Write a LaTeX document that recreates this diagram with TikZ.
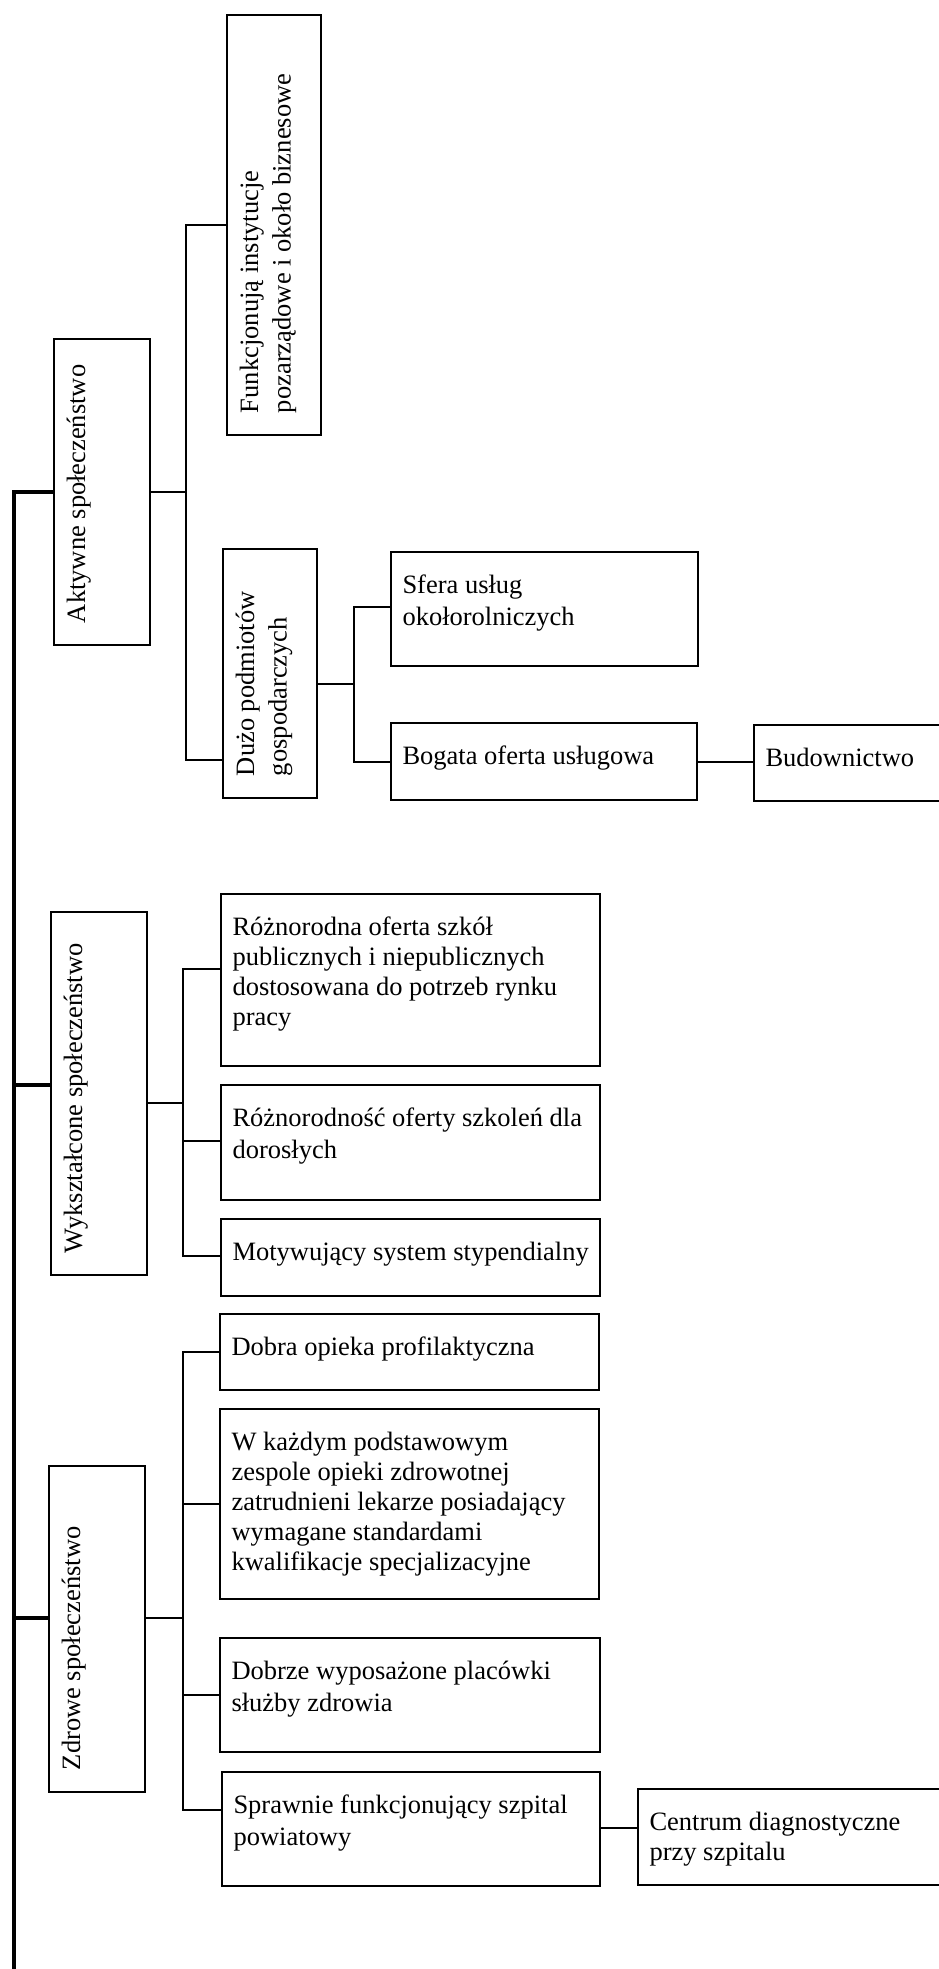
\documentclass[tikz,border=0pt]{standalone}
\usepackage{fontspec}
\setmainfont{Liberation Serif}
\newcommand\hbx[4][32pt]{\begin{minipage}[c][#3][t]{#2}\fontsize{26.5pt}{#1}\selectfont\raggedright\leftskip=11.5pt\relax\rule{0pt}{41pt}#4\end{minipage}}
\newcommand\rbx[4][32.5pt]{\begin{minipage}[c][#3][t]{#2}\fontsize{26.5pt}{#1}\selectfont\raggedright\leftskip=22pt\relax\rule{0pt}{31pt}#4\end{minipage}}
\begin{document}
\begin{tikzpicture}[x=1pt,y=-1pt,
  hb/.style={draw, line width=1.5pt, inner sep=0pt, outer sep=0pt},
  vb/.style={hb, rotate=90},
  conn/.style={line width=1.3pt},
  trunk/.style={line width=3.4pt}]
\useasboundingbox (0,0) rectangle (939,1969);
\clip (0,0) rectangle (939,1969);
% level coordinates
\coordinate (l607) at (0,607);
\coordinate (l760) at (0,760);
\coordinate (l762) at (0,762);
\coordinate (l969) at (0,969);
\coordinate (l1085) at (0,1085);
\coordinate (l1141) at (0,1141);
\coordinate (l1256) at (0,1256);
\coordinate (l1618) at (0,1618);
\coordinate (l1810) at (0,1810);
\coordinate (l1828) at (0,1828);
% boxes
\node[vb] (ak) at (102,492) {\rbx{306pt}{96pt}{Aktywne społeczeństwo}};
\node[vb] (fk) at (274,225) {\rbx{420pt}{94pt}{Funkcjonują instytucje\\pozarządowe i około biznesowe}};
\node[vb] (dz) at (270,673.5) {\rbx{249pt}{94pt}{Dużo podmiotów\\gospodarczych}};
\node[hb] (sf) at (544.5,609) {\hbx{307pt}{114pt}{Sfera usług\\okołorolniczych}};
\node[hb] (bg) at (544,761.5) {\hbx{306pt}{77pt}{Bogata oferta usługowa}};
\node[hb] (bd) at (852,763) {\hbx{196pt}{76pt}{Budownictwo}};
\node[vb] (wy) at (99,1093.5) {\rbx{363pt}{96pt}{Wykształcone społeczeństwo}};
\node[hb] (r1) at (410.5,980) {\hbx[30pt]{379pt}{172pt}{Różnorodna oferta szkół\\publicznych i niepublicznych\\dostosowana do potrzeb rynku\\pracy}};
\node[hb] (r2) at (410.5,1142.5) {\hbx{379pt}{115pt}{Różnorodność oferty szkoleń dla\\dorosłych}};
\node[hb] (r3) at (410.5,1257.5) {\hbx{379pt}{77pt}{Motywujący system stypendialny}};
\node[vb] (zd) at (97,1629) {\rbx{326pt}{96pt}{Zdrowe społeczeństwo}};
\node[hb] (z1) at (409.5,1352) {\hbx{379pt}{76pt}{Dobra opieka profilaktyczna}};
\node[hb] (z2) at (409.5,1504) {\hbx[30pt]{379pt}{190pt}{W każdym podstawowym\\zespole opieki zdrowotnej\\zatrudnieni lekarze posiadający\\wymagane standardami\\kwalifikacje specjalizacyjne}};
\node[hb] (z3) at (410,1695) {\hbx{380pt}{114pt}{Dobrze wyposażone placówki\\służby zdrowia}};
\node[hb] (z4) at (411,1829) {\hbx{378pt}{114pt}{Sprawnie funkcjonujący szpital\\powiatowy}};
\node[hb] (z5) at (794,1837) {\hbx[30pt]{312pt}{96pt}{Centrum diagnostyczne\\przy szpitalu}};
% trunk
\coordinate (tTop) at (14,492);
\coordinate (tBot) at (14,1980);
\draw[trunk] (ak.north) -- (tTop) -- (tBot);
\draw[trunk] (tTop |- l1085) -- (wy.north |- l1085);
\draw[trunk] (tTop |- l1618) -- (zd.north |- l1618);
% Aktywne branch
\coordinate (busA) at (186,492);
\draw[conn] (ak.south) -- (busA);
\draw[conn] (fk.north) -| (busA) |- (dz.north |- l760);
% Duzo branch
\coordinate (busD) at (354,684);
\draw[conn] (dz.south |- busD) -- (busD);
\draw[conn] (sf.west |- l607) -| (busD) |- (bg.west |- l762);
\draw[conn] (bg.east |- l762) -- (bd.west |- l762);
% Wyksztalcone branch
\coordinate (busW) at (183,1103);
\draw[conn] (wy.south |- busW) -- (busW);
\draw[conn] (r1.west |- l969) -| (busW) |- (r3.west |- l1256);
\draw[conn] (busW |- l1141) -- (r2.west |- l1141);
% Zdrowe branch
\coordinate (busZ) at (183,1618);
\draw[conn] (zd.south |- busZ) -- (busZ);
\draw[conn] (z1.west) -| (busZ) |- (z4.west |- l1810);
\draw[conn] (busZ |- z2.west) -- (z2.west);
\draw[conn] (busZ |- z3.west) -- (z3.west);
\draw[conn] (z4.east |- l1828) -- (z5.west |- l1828);
\end{tikzpicture}
\end{document}
